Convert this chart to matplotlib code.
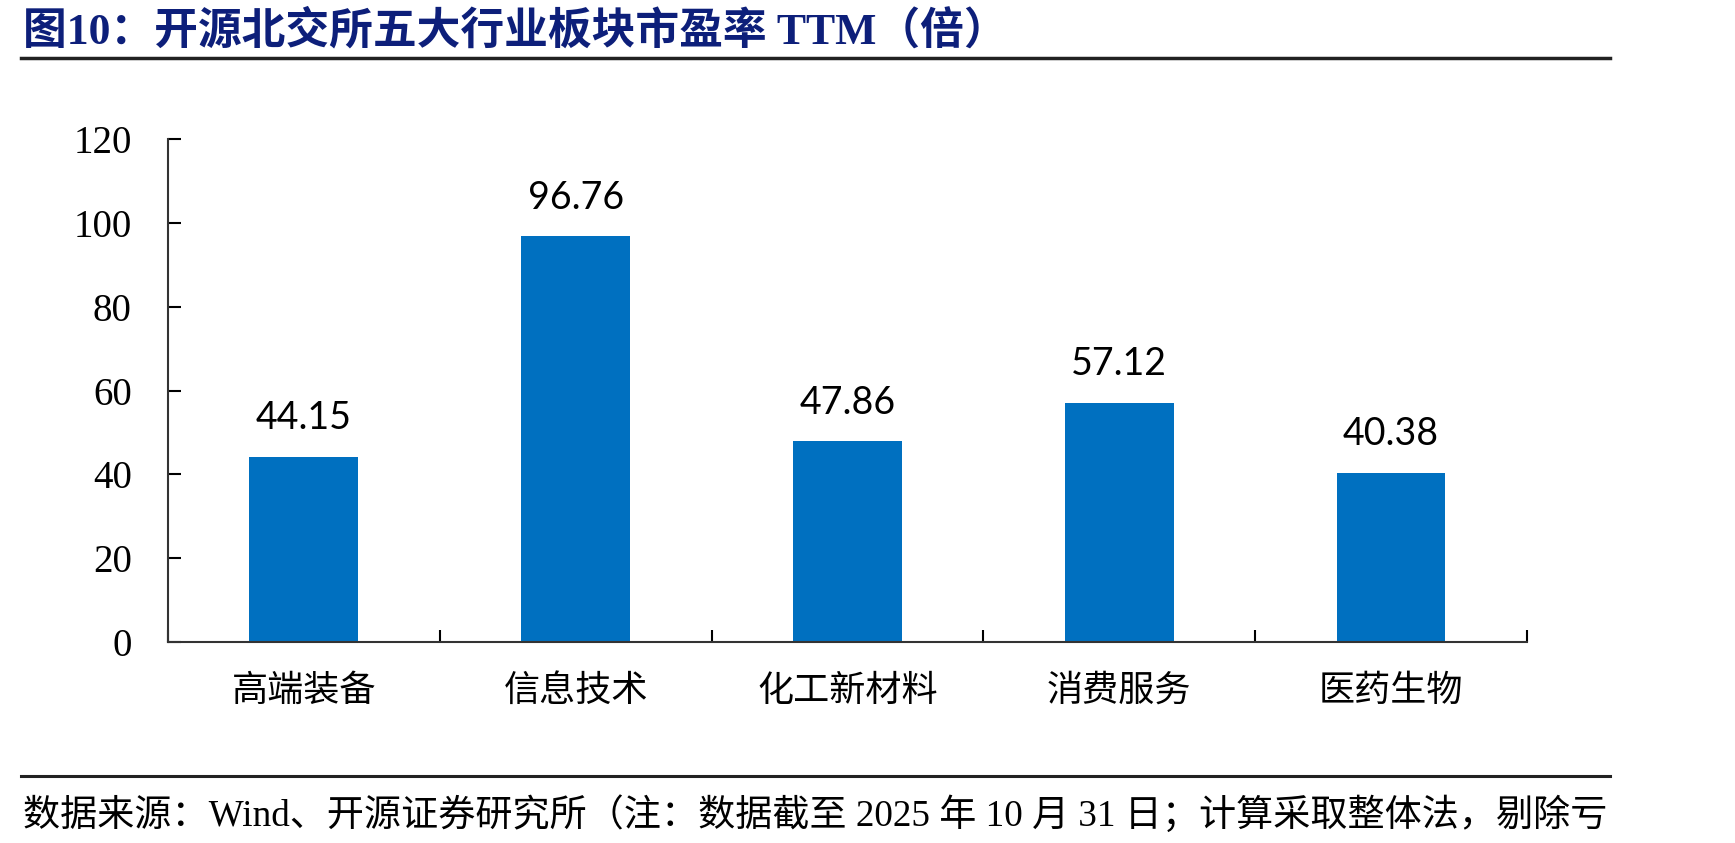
import matplotlib
matplotlib.use('Agg')
import matplotlib.pyplot as plt
from matplotlib.lines import Line2D

# data
categories = ['高端装备', '信息技术', '化工新材料', '消费服务', '医药生物']
pe_ttm = [44.15, 96.76, 47.86, 57.12, 40.38]
y_ticks = [0, 20, 40, 60, 80, 100, 120]

title = '图10：开源北交所五大行业板块市盈率 TTM（倍）'
footer = '数据来源：Wind、开源证券研究所（注：数据截至 2025 年 10 月 31 日；计算采取整体法，剔除亏'

cjk = ['Noto Sans CJK SC', 'DejaVu Sans']
serif_cjk = ['Liberation Serif', 'Noto Sans CJK SC']

fig = plt.figure(figsize=(17.35, 8.43), dpi=100)
ax = fig.add_axes([0.0968, 0.2384, 0.7833, 0.5966])

x = list(range(len(categories)))
ax.bar(x, pe_ttm, width=0.40, color='#0070C0', zorder=2)
for xi, v in zip(x, pe_ttm):
    ax.annotate(f'{v:.2f}', (xi, v), xytext=(0, 15), textcoords='offset points',
                ha='center', va='bottom', fontsize=27, family='Lato', color='black')

ax.set_xlim(-0.5, len(categories) - 0.5)
ax.set_ylim(0, 120)
ax.set_yticks(y_ticks)
ax.set_yticklabels([str(t) for t in y_ticks], family='Liberation Serif', fontsize=28)
ax.tick_params(axis='y', direction='in', length=9, width=1.5, pad=26)

# category labels centred, ticks at the boundaries
ax.set_xticks(x)
ax.set_xticklabels(categories, family=cjk, fontsize=26)
ax.tick_params(axis='x', which='major', length=0, pad=22)
ax.set_xticks([i - 0.5 for i in range(len(categories) + 1)], minor=True)
ax.tick_params(axis='x', which='minor', direction='in', length=9, width=1.5)

for s in ['top', 'right']:
    ax.spines[s].set_visible(False)
for s in ['left', 'bottom']:
    ax.spines[s].set_linewidth(1.5)
    ax.spines[s].set_color('#333333')

fig.text(0.013, 0.963, title, family=serif_cjk, fontsize=31.5, fontweight='bold',
         color='#0D1F7A', ha='left', va='center')
fig.add_artist(Line2D([0.012, 0.928], [0.931, 0.931], color='#222222', lw=2.5))
fig.add_artist(Line2D([0.012, 0.928], [0.079, 0.079], color='#222222', lw=2.2))
fig.text(0.013, 0.033, footer, family=serif_cjk, fontsize=26.7, color='black',
         ha='left', va='center')

fig.savefig('out.png', dpi=100)
